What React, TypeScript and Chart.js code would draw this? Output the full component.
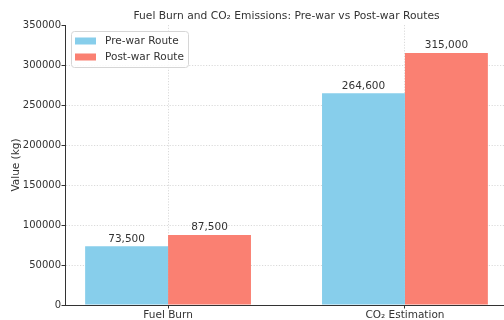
import React, { useEffect, useRef } from "react";
import { Chart, registerables } from "chart.js";

Chart.register(...registerables);

// Chart data
const categories = ["Fuel Burn", "CO₂ Estimation"];
const seriesNames = ["Pre-war Route", "Post-war Route"];
const preWarValues = [73500, 264600];
const postWarValues = [87500, 315000];
const seriesColors = ["#87CEEB", "#FA8072"];
const yMin = 0;
const yMax = 350000;
const yStep = 50000;
const chartTitle = "Fuel Burn and CO₂ Emissions: Pre-war vs Post-war Routes";
const yAxisTitle = "Value (kg)";

const FONT = "'DejaVu Sans', 'Liberation Sans', sans-serif";
const TEXT = "#333333";
const GRID = "#dadada";
const GRID_DASH = [1.2, 1.6];

const toPoints = (vals: number[]) => vals.map((v, i) => ({ x: i, y: v }));

const decorPlugin = {
  id: "decor",
  afterDatasetsDraw(chart: any) {
    const { ctx } = chart;
    ctx.save();
    // value labels above each bar
    ctx.font = `10.5px ${FONT}`;
    ctx.fillStyle = TEXT;
    ctx.textAlign = "center";
    ctx.textBaseline = "bottom";
    chart.data.datasets.forEach((ds: any, di: number) => {
      const meta = chart.getDatasetMeta(di);
      meta.data.forEach((el: any, i: number) => {
        const v = ds.data[i].y;
        ctx.fillText(v.toLocaleString("en-US"), el.x, el.y - 2);
      });
    });
    ctx.restore();
  },
  afterDraw(chart: any) {
    const { ctx, chartArea } = chart;
    ctx.save();
    // title
    ctx.font = `10.7px ${FONT}`;
    ctx.fillStyle = TEXT;
    ctx.textAlign = "center";
    ctx.textBaseline = "middle";
    ctx.fillText(chartTitle, (chartArea.left + chartArea.right) / 2, 16);

    // y axis title
    ctx.save();
    ctx.translate(16, (chartArea.top + chartArea.bottom) / 2);
    ctx.rotate(-Math.PI / 2);
    ctx.font = `10.5px ${FONT}`;
    ctx.fillText(yAxisTitle, 0, 0);
    ctx.restore();

    // legend box in upper left of plot
    const lx = chartArea.left + 6;
    const ly = chartArea.top + 6;
    const lw = 117;
    const lh = 36;
    ctx.beginPath();
    ctx.roundRect(lx + 0.5, ly + 0.5, lw, lh, 3);
    ctx.fillStyle = "rgba(255,255,255,0.85)";
    ctx.fill();
    ctx.strokeStyle = "#d6d6d6";
    ctx.lineWidth = 1;
    ctx.stroke();
    ctx.font = `10.5px ${FONT}`;
    ctx.textAlign = "left";
    ctx.textBaseline = "middle";
    seriesNames.forEach((name, i) => {
      const cy = ly + 10 + i * 16;
      ctx.fillStyle = seriesColors[i];
      ctx.fillRect(lx + 4, cy - 3.5, 21, 7);
      ctx.fillStyle = TEXT;
      ctx.fillText(name, lx + 34, cy);
    });
    ctx.restore();
  },
};

export default function App() {
  const canvasRef = useRef<HTMLCanvasElement | null>(null);

  useEffect(() => {
    const canvas = canvasRef.current;
    if (!canvas) return;
    const yTicks: number[] = [];
    for (let v = yMin; v <= yMax; v += yStep) yTicks.push(v);

    const chart = new Chart(canvas, {
      type: "bar",
      data: {
        datasets: [
          {
            label: seriesNames[0],
            data: toPoints(preWarValues),
            backgroundColor: seriesColors[0],
            categoryPercentage: 0.7,
            barPercentage: 1.0,
          },
          {
            label: seriesNames[1],
            data: toPoints(postWarValues),
            backgroundColor: seriesColors[1],
            categoryPercentage: 0.7,
            barPercentage: 1.0,
          },
        ],
      },
      options: {
        responsive: false,
        animation: false,
        devicePixelRatio: 1,
        layout: { padding: { top: 25, left: 0, right: 12, bottom: 0 } },
        plugins: {
          legend: { display: false },
          title: { display: false },
          tooltip: { enabled: false },
        },
        scales: {
          x: {
            type: "linear",
            offset: false,
            min: -0.435,
            max: 1.435,
            afterBuildTicks: (scale: any) => {
              scale.ticks = categories.map((_, i) => ({ value: i }));
            },
            afterFit: (scale: any) => {
              scale.height = 15;
            },
            ticks: {
              callback: (v: any) => categories[Math.round(Number(v))] ?? "",
              color: TEXT,
              font: { family: FONT, size: 10.5 },
              padding: 0,
              maxRotation: 0,
              autoSkip: false,
            },
            grid: {
              offset: false,
              color: GRID,
              tickColor: TEXT,
              tickLength: 3.5,
              tickBorderDash: [],
            },
            border: { display: true, color: TEXT, width: 1, dash: GRID_DASH },
          },
          y: {
            type: "linear",
            min: yMin,
            max: yMax,
            afterBuildTicks: (scale: any) => {
              scale.ticks = yTicks.map((v) => ({ value: v }));
            },
            afterFit: (scale: any) => {
              scale.width = 65;
            },
            ticks: {
              callback: (v: any) => String(v),
              color: TEXT,
              font: { family: FONT, size: 10 },
              padding: 0.5,
            },
            grid: {
              color: (c: any) =>
                c.tick && (c.tick.value === yMax || c.tick.value === yMin) ? "rgba(0,0,0,0)" : GRID,
              tickColor: TEXT,
              tickLength: 3.5,
              tickBorderDash: [],
            },
            border: { display: true, color: TEXT, width: 1, dash: GRID_DASH },
          },
        },
      },
      plugins: [decorPlugin],
    } as any);

    return () => chart.destroy();
  }, []);

  return (
    <div
      style={{
        position: "fixed",
        left: 0,
        top: 0,
        width: 504,
        height: 320,
        overflow: "hidden",
        background: "#ffffff",
      }}
    >
      <canvas ref={canvasRef} width={520} height={320} style={{ display: "block" }} />
    </div>
  );
}
